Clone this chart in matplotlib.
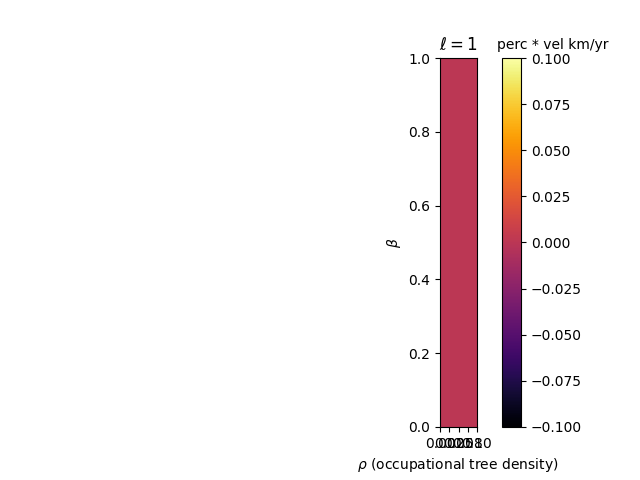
import numpy as np
import matplotlib
matplotlib.use("Agg")
import matplotlib.pyplot as plt

perc_vel = [[0.0, 0.0], [0.0, 0.0]]
rho_ticks = [0.0, 0.025, 0.05, 0.075, 0.1]
rho_labels = ["0.00", "0.02", "0.05", "0.08", "0.10"]
rho_edges = [0.0, 0.1]
beta_edges = [0.0, 1.0]

fig = plt.figure(figsize=(6.4, 4.8), dpi=100)
ax = fig.add_axes([440/640, 1-427/480, 37/640, 369/480])
im = ax.imshow(perc_vel, cmap="inferno", vmin=-0.1, vmax=0.1, aspect="auto", origin="lower",
               extent=[rho_edges[0], rho_edges[1], beta_edges[0], beta_edges[1]])
ax.set_xticks(rho_ticks)
ax.set_xticklabels(rho_labels)
ax.set_ylabel(r"$\beta$")
ax.set_title(r"$\ell = 1$")
fig.text(458/640, 1-464.5/480, r"$\rho$ (occupational tree density)", ha="center", va="center")
cax = fig.add_axes([502/640, 1-427/480, 19/640, 369/480])
cb = fig.colorbar(im, cax=cax)
fig.text(553/640, 1-45/480, "perc * vel km/yr", ha="center", va="center", fontsize=10)
fig.savefig("out.png", dpi=100)
